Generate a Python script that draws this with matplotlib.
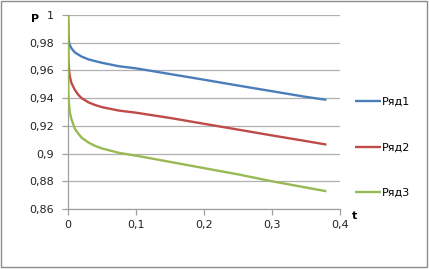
import matplotlib

matplotlib.use("Agg")
import matplotlib.pyplot as plt
from matplotlib.patches import Rectangle
from matplotlib.ticker import FuncFormatter, MultipleLocator

t = [0, 0.0005, 0.001, 0.002, 0.003, 0.005, 0.01, 0.015, 0.02, 0.03, 0.04,
     0.05, 0.075, 0.1, 0.15, 0.2, 0.25, 0.3, 0.35, 0.38]
row1 = [1, 0.985, 0.982, 0.979, 0.978, 0.976, 0.973, 0.9715, 0.970, 0.968,
        0.9667, 0.9655, 0.963, 0.9615, 0.9574, 0.9533, 0.9491, 0.945, 0.9409,
        0.9388]
row2 = [1, 0.968, 0.963, 0.958, 0.955, 0.951, 0.946, 0.9425, 0.940, 0.937,
        0.935, 0.9335, 0.931, 0.9295, 0.9257, 0.9215, 0.9173, 0.9131, 0.909,
        0.9065]
row3 = [1, 0.945, 0.939, 0.933, 0.929, 0.925, 0.918, 0.9145, 0.9115, 0.908,
        0.9055, 0.9037, 0.9005, 0.8985, 0.894, 0.8895, 0.885, 0.880, 0.8755,
        0.8728]
labels = ["Ряд1", "Ряд2", "Ряд3"]
colors = ["#4a7ebb", "#be4b48", "#98b954"]

W, H = 429, 269
fig = plt.figure(figsize=(W / 100, H / 100), dpi=100)
fig.patch.set_facecolor("white")
ax = fig.add_axes([68 / W, 1 - 209 / H, (340 - 68) / W, (209 - 15) / H])

for values, label, color in zip([row1, row2, row3], labels, colors):
    ax.plot(t, values, color=color, linewidth=1.7, label=label,
            solid_capstyle="butt", solid_joinstyle="round", zorder=3)

ax.set_xlim(0, 0.4)
ax.set_ylim(0.86, 1.0)
ax.xaxis.set_major_locator(MultipleLocator(0.1))
ax.yaxis.set_major_locator(MultipleLocator(0.02))
fmt = FuncFormatter(lambda v, _: f"{round(v, 2):g}".replace(".", ","))
ax.xaxis.set_major_formatter(fmt)
ax.yaxis.set_major_formatter(fmt)
ax.grid(axis="y", color="#b0b0b0", linewidth=0.9)
ax.set_axisbelow(True)
for side in ("top", "right"):
    ax.spines[side].set_visible(False)
for side in ("left", "bottom"):
    ax.spines[side].set_color("#a0a0a0")
    ax.spines[side].set_linewidth(0.9)
ax.tick_params(axis="both", direction="out", length=4, width=0.9,
               color="#a0a0a0", labelsize=8, labelcolor="#222222")
ax.tick_params(axis="y", pad=6)
ax.tick_params(axis="x", pad=4)

fig.text(35 / W, 1 - 19 / H, "P", fontsize=8, fontweight="bold",
         ha="center", va="center")
fig.text(355 / W, 1 - 216 / H, "t", fontsize=8, fontweight="bold",
         ha="center", va="center")

ax.legend(loc="upper left", bbox_to_anchor=(355 / W, 1 - 97 / H),
          bbox_transform=fig.transFigure, frameon=False, fontsize=8,
          handlelength=2.3, handletextpad=0.1, labelspacing=3.2,
          borderpad=0, borderaxespad=0)

fig.add_artist(Rectangle((0.5 / W, 2.5 / H), (W - 2.5) / W, (H - 3.5) / H,
                         transform=fig.transFigure, fill=False,
                         edgecolor="#8c8c8c", linewidth=1.0))

fig.savefig("out.png", dpi=100)
plt.close(fig)
